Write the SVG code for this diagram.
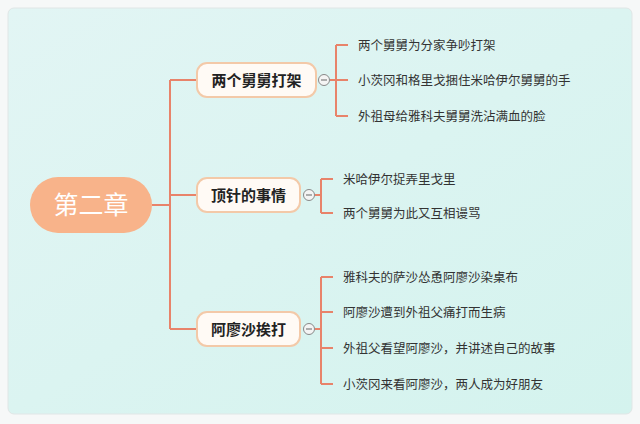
<svg xmlns="http://www.w3.org/2000/svg" width="640" height="424" viewBox="0 0 640 424">
<defs>
<linearGradient id="bg" x1="0" y1="0" x2="1" y2="1"><stop offset="0" stop-color="#e2f5f4"/><stop offset="1" stop-color="#d4f3ee"/></linearGradient>
<style>
.ln{stroke:#e8836a;stroke-width:2;fill:none}
.nd{fill:#fffaf5;stroke:#f3c9a8;stroke-width:2}
.nt{font-family:"Noto Sans CJK SC",sans-serif;font-size:15px;font-weight:bold;fill:#222}
.lt{font-family:"Noto Sans CJK SC",sans-serif;font-size:12.5px;fill:#333}
.cc{fill:#f4f4f4;stroke:#888;stroke-width:1}
</style>
</defs>
<rect width="640" height="424" fill="#f6f8f8"/>
<rect x="8" y="8" width="624" height="406" rx="6" fill="url(#bg)" stroke="#e0e6e6"/>
<g id="connectors">
<path class="ln" d="M152 205H170M170 80V329M170 80H197M170 195H197M170 329H197"/>
<path class="ln" d="M330 80H336M336 45V116M336 45H348M336 80H348M336 116H348"/>
<path class="ln" d="M315 195H321M321 179V213M321 179H333M321 213H333"/>
<path class="ln" d="M315 329H321M321 277V384M321 277H333M321 312H333M321 348H333M321 384H333"/>
</g>
<g id="root"><rect x="30" y="177" width="122" height="56" rx="28" fill="#f8b38a"/><text x="91" y="214" text-anchor="middle" font-family="Noto Sans CJK SC,sans-serif" font-size="25" fill="#fff">第二章</text></g>
<g id="n1"><rect class="nd" x="197" y="63" width="119" height="34" rx="10"/><text class="nt" x="256.5" y="85.5" text-anchor="middle">两个舅舅打架</text><circle class="cc" cx="324" cy="80" r="5.5"/><path d="M321 80h6" stroke="#666"/></g>
<g id="n2"><rect class="nd" x="197" y="178" width="103" height="34" rx="10"/><text class="nt" x="248.5" y="200.5" text-anchor="middle">顶针的事情</text><circle class="cc" cx="309" cy="195" r="5.5"/><path d="M306 195h6" stroke="#666"/></g>
<g id="n3"><rect class="nd" x="197" y="312" width="103" height="34" rx="10"/><text class="nt" x="248.5" y="334.5" text-anchor="middle">阿廖沙挨打</text><circle class="cc" cx="309" cy="329" r="5.5"/><path d="M306 329h6" stroke="#666"/></g>
<g id="leaves">
<text class="lt" x="358" y="50">两个舅舅为分家争吵打架</text>
<text class="lt" x="358" y="85">小茨冈和格里戈捆住米哈伊尔舅舅的手</text>
<text class="lt" x="358" y="121">外祖母给雅科夫舅舅洗沾满血的脸</text>
<text class="lt" x="343" y="184">米哈伊尔捉弄里戈里</text>
<text class="lt" x="343" y="218">两个舅舅为此又互相谩骂</text>
<text class="lt" x="343" y="282">雅科夫的萨沙怂恿阿廖沙染桌布</text>
<text class="lt" x="343" y="317">阿廖沙遭到外祖父痛打而生病</text>
<text class="lt" x="343" y="353">外祖父看望阿廖沙，并讲述自己的故事</text>
<text class="lt" x="343" y="389">小茨冈来看阿廖沙，两人成为好朋友</text>
</g>
</svg>
